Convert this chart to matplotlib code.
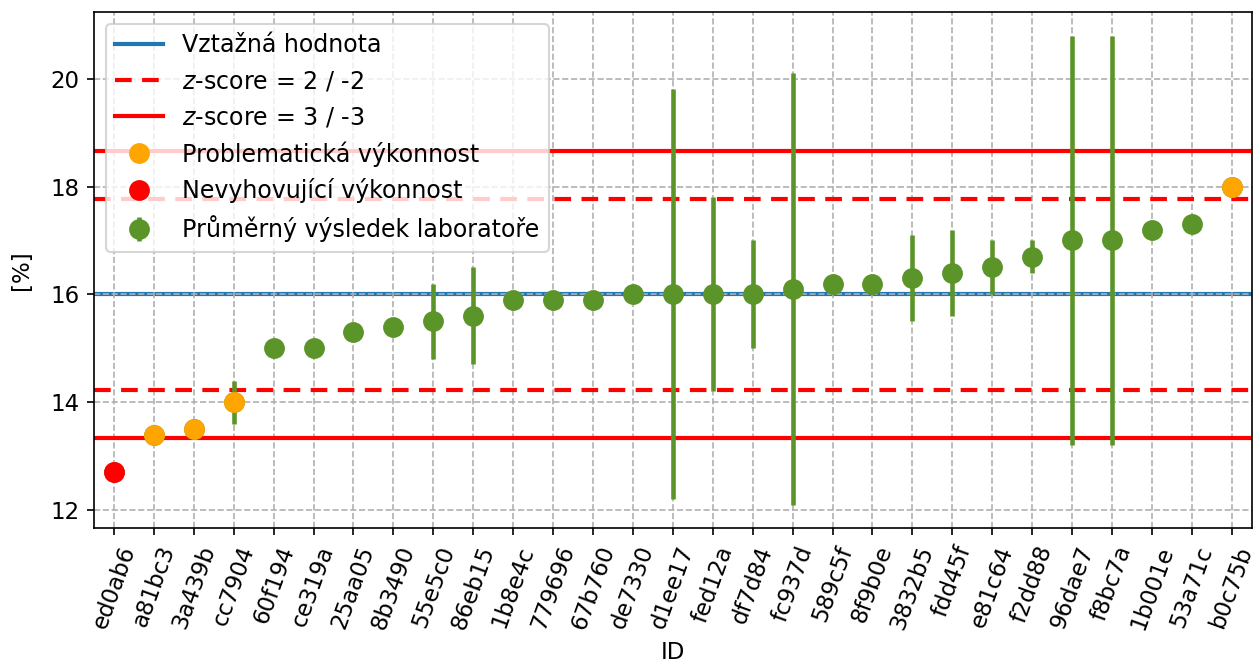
import numpy as np
import matplotlib
matplotlib.use('Agg')
import matplotlib.pyplot as plt
from matplotlib.lines import Line2D

# data
ids = ['ed0ab6', 'a81bc3', '3a439b', 'cc7904', '60f194', 'ce319a', '25aa05', '8b3490',
       '55e5c0', '86eb15', '1b8e4c', '779696', '67b760', 'de7330', 'd1ee17', 'fed12a',
       'df7d84', 'fc937d', '589c5f', '8f9b0e', '3832b5', 'fdd45f', 'e81c64', 'f2dd88',
       '96dae7', 'f8bc7a', '1b001e', '53a71c', 'b0c75b']
values = [12.7, 13.4, 13.5, 14.0, 15.0, 15.0, 15.3, 15.4,
          15.5, 15.6, 15.9, 15.9, 15.9, 16.0, 16.0, 16.0,
          16.0, 16.1, 16.2, 16.2, 16.3, 16.4, 16.5, 16.7,
          17.0, 17.0, 17.2, 17.3, 18.0]
errors = [0, 0, 0, 0.4, 0, 0, 0, 0,
          0.7, 0.9, 0, 0, 0, 0, 3.8, 1.8,
          1.0, 4.0, 0, 0, 0.8, 0.8, 0.5, 0.3,
          3.8, 3.8, 0, 0, 0]
ref_value = 16.0
sigma = 0.8875

plt.rcParams['font.size'] = 11
green = '#5b952a'

fig, ax = plt.subplots(figsize=(1253/150, 671/150), dpi=150)
fig.subplots_adjust(left=0.075, right=0.999, top=0.982, bottom=0.213)

x = np.arange(len(ids))
vals = np.array(values)
z = (vals - ref_value) / sigma

# vztazna hodnota + z-score meze
ax.axhline(ref_value, color='#1f77b4', lw=2, zorder=1)
ax.axhspan(ref_value - 0.04, ref_value + 0.04, color='#1f77b4', alpha=0.3, lw=0, zorder=1)
for k in [2, -2]:
    ax.axhline(ref_value + k * sigma, color='red', ls='--', lw=2, dashes=(4, 2.5), zorder=2)
for k in [3, -3]:
    ax.axhline(ref_value + k * sigma, color='red', ls='-', lw=2, zorder=2)

ax.errorbar(x, vals, yerr=errors, fmt='o', color=green, ms=9, elinewidth=2.2, capsize=0, zorder=3)

warn = (np.abs(z) >= 2) & (np.abs(z) < 3)
bad = np.abs(z) >= 3
ax.plot(x[warn], vals[warn], 'o', color='orange', ms=9, zorder=4)
ax.plot(x[bad], vals[bad], 'o', color='red', ms=9, zorder=4)

ax.set_xticks(x)
ax.set_xticklabels(ids, rotation=70)
ax.set_xlim(-0.5, len(ids) - 0.5)
ax.set_xlabel('ID')
ax.set_ylabel('[%]', labelpad=8)
ax.grid(True, ls='--', color='#b0b0b0', lw=0.8)

handles = [
    Line2D([], [], color='#1f77b4', lw=2),
    Line2D([], [], color='red', ls='--', lw=2, dashes=(4, 2.5)),
    Line2D([], [], color='red', lw=2),
    Line2D([], [], color='orange', marker='o', ls='none', ms=9),
    Line2D([], [], color='red', marker='o', ls='none', ms=9),
    ax.containers[0],
]
labels = ['Vztažná hodnota', '$z$-score = 2 / -2', '$z$-score = 3 / -3',
          'Problematická výkonnost', 'Nevyhovující výkonnost', 'Průměrný výsledek laboratoře']
ax.legend(handles, labels, loc='upper left', fontsize=11.4)

fig.savefig('out.png', dpi=150)
